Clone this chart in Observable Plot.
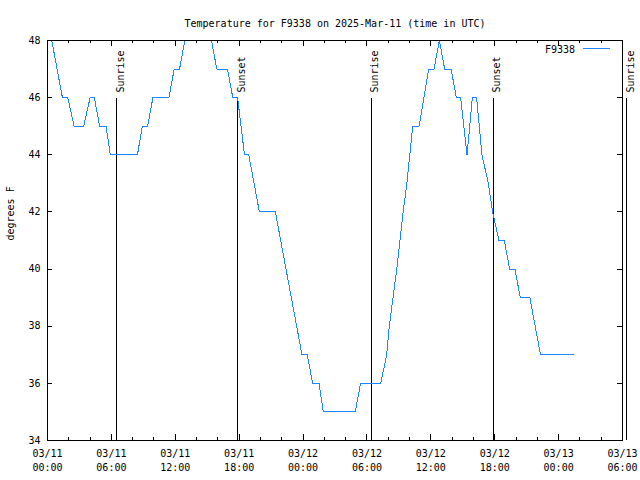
<!DOCTYPE html>
<html><head><meta charset="utf-8">
<script src="https://cdn.jsdelivr.net/npm/d3@7"></script>
<script src="https://cdn.jsdelivr.net/npm/@observablehq/plot@0.6"></script>
<style>body{margin:0;background:#fff}</style>
</head><body><div id="chart"></div>
<script>
const title = "Temperature for F9338 on 2025-Mar-11 (time in UTC)";
const seriesName = "F9338";
const yLabel = "degrees F";
const xDomain = ["2025-03-11T00:00", "2025-03-13T06:00"];
const yDomain = [34, 48];

const times = [
  "2025-03-11T00:00","2025-03-11T00:24","2025-03-11T01:24","2025-03-11T01:54","2025-03-11T02:30",
  "2025-03-11T03:24","2025-03-11T04:00","2025-03-11T04:24","2025-03-11T04:54","2025-03-11T05:30",
  "2025-03-11T05:54","2025-03-11T08:27","2025-03-11T08:54","2025-03-11T09:24","2025-03-11T09:54",
  "2025-03-11T11:24","2025-03-11T11:54","2025-03-11T12:24","2025-03-11T12:54","2025-03-11T13:24",
  "2025-03-11T14:54","2025-03-11T15:24","2025-03-11T15:54","2025-03-11T16:54","2025-03-11T17:24",
  "2025-03-11T17:51","2025-03-11T18:30","2025-03-11T18:54","2025-03-11T19:54","2025-03-11T21:24",
  "2025-03-11T23:54","2025-03-12T00:24","2025-03-12T00:54","2025-03-12T01:30","2025-03-12T01:54",
  "2025-03-12T04:54","2025-03-12T05:24","2025-03-12T07:18","2025-03-12T07:51","2025-03-12T08:06",
  "2025-03-12T08:48","2025-03-12T09:24","2025-03-12T09:45","2025-03-12T10:18","2025-03-12T10:54",
  "2025-03-12T11:48","2025-03-12T12:18","2025-03-12T12:48","2025-03-12T13:18","2025-03-12T13:54",
  "2025-03-12T14:24","2025-03-12T14:48","2025-03-12T15:24","2025-03-12T15:54","2025-03-12T16:18",
  "2025-03-12T16:48","2025-03-12T17:24","2025-03-12T17:48","2025-03-12T18:24","2025-03-12T18:54",
  "2025-03-12T19:24","2025-03-12T19:54","2025-03-12T20:24","2025-03-12T21:18","2025-03-12T22:18",
  "2025-03-13T01:24"
];
const temps = [
  49,48,46,46,45,
  45,46,46,45,45,
  44,44,45,45,46,
  46,47,47,48,49,
  49,48,47,47,46,
  46,44,44,42,42,
  37,37,36,36,35,
  35,36,36,37,38,
  40,42,43,45,45,
  47,47,48,47,47,
  46,46,44,46,46,
  44,43,42,41,41,
  40,40,39,39,37,
  37
];

const eventTimes = ["2025-03-11T06:30","2025-03-11T17:51","2025-03-12T06:24","2025-03-12T17:51","2025-03-13T06:24"];
const eventLabels = ["Sunrise","Sunset","Sunrise","Sunset","Sunrise"];

const xTickTimes = ["2025-03-11T00:00","2025-03-11T06:00","2025-03-11T12:00","2025-03-11T18:00","2025-03-12T00:00",
  "2025-03-12T06:00","2025-03-12T12:00","2025-03-12T18:00","2025-03-13T00:00","2025-03-13T06:00"];
const xTickLabels = ["03/11\n00:00","03/11\n06:00","03/11\n12:00","03/11\n18:00","03/12\n00:00",
  "03/12\n06:00","03/12\n12:00","03/12\n18:00","03/13\n00:00","03/13\n06:00"];
const xMinorTimes = ["2025-03-11T02:00","2025-03-11T04:00","2025-03-11T08:00","2025-03-11T10:00","2025-03-11T14:00",
  "2025-03-11T16:00","2025-03-11T20:00","2025-03-11T22:00","2025-03-12T02:00","2025-03-12T04:00",
  "2025-03-12T08:00","2025-03-12T10:00","2025-03-12T14:00","2025-03-12T16:00","2025-03-12T20:00",
  "2025-03-12T22:00","2025-03-13T02:00","2025-03-13T04:00"];
const yTicks = [34,36,38,40,42,44,46,48];

const parse = s => new Date(s + ":00Z");
const data = times.map((t, i) => ({t: parse(t), v: temps[i]}));
const events = eventTimes.map((t, i) => ({t: parse(t), label: eventLabels[i]}));
const majors = xTickTimes.map((t, i) => ({t: parse(t), label: xTickLabels[i]}));
const minors = xMinorTimes.map(parse);

const W = 640, H = 480, mL = 47, mR = 18, mT = 40, mB = 40;
const innerW = W - mL - mR, innerH = H - mT - mB;
const lineColor = "#1f86ff";
const crisp = {shapeRendering: "crispEdges"};

const legend = (index, scales, values, dims) => {
  const g = d3.create("svg:g");
  const xr = dims.width - dims.marginRight;
  const yy = dims.marginTop + 8;
  g.append("line").attr("x1", xr - 39).attr("x2", xr - 12).attr("y1", yy).attr("y2", yy)
    .attr("stroke", lineColor).attr("stroke-width", 1).attr("shape-rendering", "crispEdges");
  g.append("text").attr("x", xr - 47).attr("y", yy + 1.5).attr("text-anchor", "end")
    .attr("dominant-baseline", "middle").attr("fill", "black").text(seriesName);
  return g.node();
};

const chart = Plot.plot({
  width: W, height: H,
  marginLeft: mL, marginRight: mR, marginTop: mT, marginBottom: mB,
  style: {fontFamily: "'DejaVu Sans Mono', monospace", fontSize: "10px", color: "black", background: "white"},
  x: {type: "utc", domain: xDomain.map(parse), axis: null},
  y: {domain: yDomain, axis: null},
  marks: [
    Plot.ruleX(events, {x: "t", stroke: "black", strokeWidth: 1, insetTop: 58, ...crisp}),
    Plot.text(events, {x: "t", text: "label", frameAnchor: "top", dy: 52, rotate: -90, textAnchor: "start", fill: "black"}),
    Plot.line(data, {x: "t", y: "v", stroke: lineColor, strokeWidth: 1, clip: true, ...crisp}),
    Plot.frame({stroke: "black", strokeWidth: 1, ...crisp}),
    // inward ticks
    Plot.tickX(majors, {x: "t", insetTop: innerH - 6, stroke: "black", ...crisp}),
    Plot.tickX(majors, {x: "t", insetBottom: innerH - 6, stroke: "black", ...crisp}),
    Plot.tickX(minors, {x: d => d, insetTop: innerH - 3, stroke: "black", ...crisp}),
    Plot.tickX(minors, {x: d => d, insetBottom: innerH - 3, stroke: "black", ...crisp}),
    Plot.tickY(yTicks, {y: d => d, insetRight: innerW - 5, stroke: "black", ...crisp}),
    Plot.tickY(yTicks, {y: d => d, insetLeft: innerW - 5, stroke: "black", ...crisp}),
    // tick labels
    Plot.text(majors, {x: "t", text: "label", frameAnchor: "bottom", dy: 7, lineAnchor: "top", lineHeight: 1.4, fill: "black"}),
    Plot.text(yTicks, {y: d => d, text: d => String(d), frameAnchor: "left", dx: -7, textAnchor: "end", fill: "black"}),
    Plot.text([yLabel], {text: d => d, frameAnchor: "left", dx: -37, rotate: -90, fill: "black"}),
    Plot.text([title], {text: d => d, frameAnchor: "top", dy: -21, fill: "black"}),
    legend
  ]
});
document.getElementById("chart").appendChild(chart);
</script>
</body></html>
